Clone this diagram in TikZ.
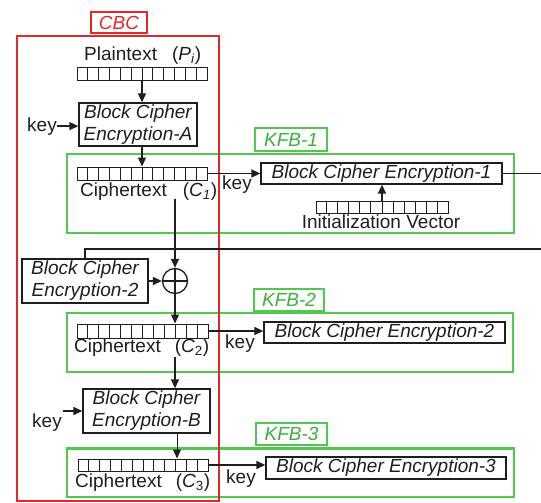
\documentclass[tikz,border=0pt]{standalone}
\usepackage{fontspec}
\setmainfont{Liberation Sans}
\usetikzlibrary{arrows.meta,calc}
\definecolor{kgreen}{RGB}{80,200,80}
\definecolor{kgtext}{RGB}{60,175,60}
\definecolor{kred}{RGB}{228,40,40}
\definecolor{ink}{RGB}{30,30,30}
\newcommand\regcells[1]{\foreach \k in {1,...,11}{\draw[ink,line width=0.9pt] ($(#1.north west)!\k/12!(#1.north east)$) -- ($(#1.south west)!\k/12!(#1.south east)$);}}
\begin{document}
\begin{tikzpicture}[x=1pt,y=-1pt, font=\fontsize{19}{21}\selectfont,
 every node/.style={text=ink},
 blk/.style={draw=ink, line width=1.3pt, inner sep=0pt, align=center, font=\fontsize{19}{22}\selectfont\itshape},
 reg/.style={draw=ink, line width=1pt, inner sep=0pt},
 grn/.style={draw=kgreen, line width=2.2pt, inner sep=0pt},
 glabel/.style={draw=kgreen, line width=1.1pt, text=kgtext, font=\fontsize{19}{21}\selectfont\itshape, inner sep=0pt},
 rlabel/.style={draw=kred, line width=1.1pt, text=kred, font=\fontsize{19}{21}\selectfont\itshape, inner sep=0pt},
 arr/.style={draw=ink, line width=1.3pt, -{Triangle[length=9pt,width=8pt]}},
 ln/.style={draw=ink, line width=1.2pt},
]
\useasboundingbox (0,0) rectangle (541,503);
% green KFB frames
\node[grn, minimum width=447, minimum height=79] (kfb1) at (290.5,193.5) {};
\node[grn, minimum width=446, minimum height=59] (kfb2) at (290,342.5) {};
\node[grn, minimum width=447, minimum height=48.5] (kfb3) at (290.5,472.75) {};
\node[glabel, minimum width=72, minimum height=23] (kfb1l) at (291,139.5) {KFB-1};
\node[glabel, minimum width=70, minimum height=22] (kfb2l) at (289,300) {KFB-2};
\node[glabel, minimum width=71, minimum height=22] (kfb3l) at (291.5,434) {KFB-3};
% red CBC frame
\node[draw=kred, line width=2.2pt, minimum width=202, minimum height=465, inner sep=0pt] (cbc) at (118,268.5) {};
\node[rlabel, minimum width=56, minimum height=21] (cbcl) at (119,22.5) {CBC};
% texts
\node[anchor=base west, inner sep=0pt] (pttxt) at (84,60) {Plaintext\hspace{15pt}(\textit{P}\textsubscript{\textit{i}})};
\node[anchor=base west, inner sep=0pt] (c1txt) at (80,196) {Ciphertext\hspace{16pt}(\textit{C}\textsubscript{\textit{1}})};
\node[anchor=base west, inner sep=0pt] (c2txt) at (74,352) {Ciphertext\hspace{14pt}(\textit{C}\textsubscript{2})};
\node[anchor=base west, inner sep=0pt] (c3txt) at (75,487) {Ciphertext\hspace{14pt}(\textit{C}\textsubscript{3})};
\node[anchor=base, inner sep=0pt] (ivtxt) at (381,228) {Initialization Vector};
\node[anchor=base west, inner sep=0pt] (keyA) at (27,131) {key};
\node[anchor=base west, inner sep=0pt] (keyB) at (32,427) {key};
\node[anchor=base west, inner sep=0pt] (key1) at (222,189) {key};
\node[anchor=base west, inner sep=0pt] (key2) at (225,348) {key};
\node[anchor=base west, inner sep=0pt] (key3) at (226,483) {key};
% registers
\node[reg, minimum width=130, minimum height=13] (ptreg) at (142,74.5) {};
\node[reg, minimum width=130, minimum height=13] (c1reg) at (142,173.5) {};
\node[reg, minimum width=132, minimum height=12] (ivreg) at (382,207) {};
\node[reg, minimum width=131, minimum height=14] (c2reg) at (142.5,331) {};
\node[reg, minimum width=130, minimum height=12] (c3reg) at (143,465) {};
\regcells{ptreg}\regcells{c1reg}\regcells{ivreg}\regcells{c2reg}\regcells{c3reg}
% cipher blocks
\node[blk, minimum width=118, minimum height=43] (bcA) at (138,124.5) {Block Cipher\\Encryption-A};
\node[blk, minimum width=241, minimum height=21] (bc1) at (381.5,173.5) {Block Cipher Encryption-1};
\node[blk, minimum width=126, minimum height=44] (enc2L) at (85,281) {Block Cipher\\Encryption-2};
\node[blk, minimum width=241, minimum height=21] (bc2) at (384.5,332.5) {Block Cipher Encryption-2};
\node[blk, minimum width=127, minimum height=44] (bcB) at (146.5,411) {Block Cipher\\Encryption-B};
\node[blk, minimum width=240, minimum height=22] (bc3) at (386,468) {Block Cipher Encryption-3};
\node[draw=ink, line width=1.3pt, circle, minimum size=25, inner sep=0pt] (xor) at (175,281) {};
\draw[ln] (xor.north) -- (xor.south) (xor.west) -- (xor.east);
% coordinates
\coordinate (c1out) at (175,199);
\coordinate (c2out) at (175,357);
\coordinate (keyBs) at (63,411);
\coordinate (fbR) at (542,249);
% connectors
\draw[arr] (ptreg.south) -- (ptreg.south |- bcA.north);
\draw[arr] (c1reg.north |- bcA.south) -- (c1reg.north);
\draw[arr] (keyA.east) -- (keyA.east -| bcA.west);
\draw[arr] (c1reg.east) -- (bc1.west);
\draw[arr] (ivreg.north) -- (ivreg.north |- bc1.south);
\draw[ink, line width=1.1pt] (bc1.east) -| (fbR) -| (enc2L.north);
\draw[arr] (c1out) -- (xor.north);
\draw[arr] (enc2L.east) -- (xor.west);
\draw[arr] (xor.south) -- (xor.south |- c2reg.north);
\draw[arr] (c2reg.east) -- (c2reg.east -| bc2.west);
\draw[arr] (c2out) -- (c2out |- bcB.north);
\draw[arr] (keyBs) -- (bcB.west);
\draw[arr, line width=0.9pt] ([xshift=30.5pt]bcB.south) -- ([xshift=30.5pt]bcB.south |- c3reg.north);
\draw[arr] (c3reg.east) -- (c3reg.east -| bc3.west);
\end{tikzpicture}
\end{document}
